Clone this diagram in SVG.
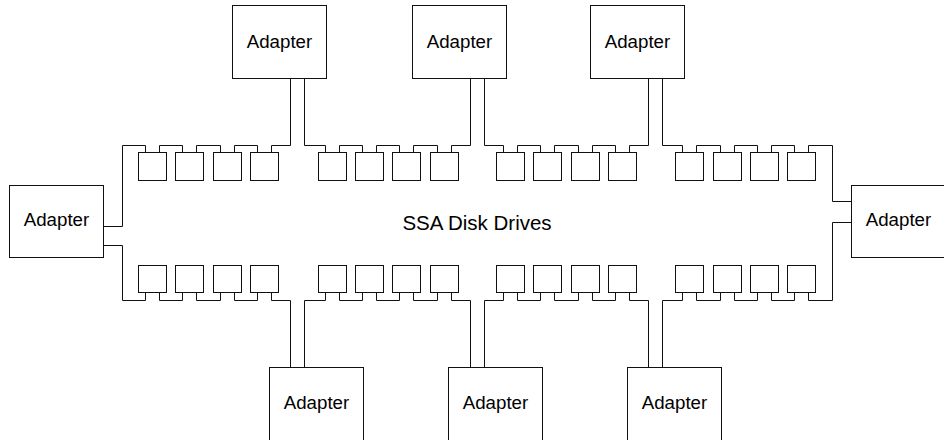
<svg xmlns="http://www.w3.org/2000/svg" width="944" height="440" viewBox="0 0 944 440">
<style>
.box{fill:#fff;stroke:#111;stroke-width:1}
.drv{fill:#fff;stroke:#111;stroke-width:1}
.wire{fill:none;stroke:#111;stroke-width:1}
.lbl{font-family:"Liberation Sans",Arial,sans-serif;font-size:18.7px;fill:#000;text-anchor:middle}
.big{font-size:20.5px}
</style>
<rect width="944" height="440" fill="#fff"/>
<g id="connectors">
<path class="wire" d="M103.5 226.5 H122.5 V145.5 H145.5 V152.5 M159.5 152.5 V145.5 H182.5 V152.5 M196.5 152.5 V145.5 H220.5 V152.5 M234.5 152.5 V145.5 H257.5 V152.5 M271.5 152.5 V145.5 H290.5 V78.5 M304.5 78.5 V145.5 H325.5 V152.5 M339.5 152.5 V145.5 H362.5 V152.5 M376.5 152.5 V145.5 H399.5 V152.5 M413.5 152.5 V145.5 H437.5 V152.5 M451.5 152.5 V145.5 H470.5 V78.5 M484.5 78.5 V145.5 H503.5 V152.5 M517.5 152.5 V145.5 H540.5 V152.5 M554.5 152.5 V145.5 H578.5 V152.5 M592.5 152.5 V145.5 H615.5 V152.5 M629.5 152.5 V145.5 H648.5 V78.5 M662.5 78.5 V145.5 H682.5 V152.5 M696.5 152.5 V145.5 H720.5 V152.5 M734.5 152.5 V145.5 H757.5 V152.5 M771.5 152.5 V145.5 H794.5 V152.5 M808.5 152.5 V145.5 H832.5 V201.5 H851.5"/>
<path class="wire" d="M103.5 245.5 H122.5 V300.5 H145.5 V292.5 M159.5 292.5 V300.5 H182.5 V292.5 M196.5 292.5 V300.5 H220.5 V292.5 M234.5 292.5 V300.5 H257.5 V292.5 M271.5 292.5 V300.5 H290.5 V367.5 M304.5 367.5 V300.5 H325.5 V292.5 M339.5 292.5 V300.5 H362.5 V292.5 M376.5 292.5 V300.5 H399.5 V292.5 M413.5 292.5 V300.5 H437.5 V292.5 M451.5 292.5 V300.5 H470.5 V367.5 M484.5 367.5 V300.5 H503.5 V292.5 M517.5 292.5 V300.5 H540.5 V292.5 M554.5 292.5 V300.5 H578.5 V292.5 M592.5 292.5 V300.5 H615.5 V292.5 M629.5 292.5 V300.5 H648.5 V367.5 M662.5 367.5 V300.5 H682.5 V292.5 M696.5 292.5 V300.5 H720.5 V292.5 M734.5 292.5 V300.5 H757.5 V292.5 M771.5 292.5 V300.5 H794.5 V292.5 M808.5 292.5 V300.5 H832.5 V222.5 H851.5"/>
</g>
<g id="drives-top">
<rect class="drv" x="138.5" y="152.5" width="28" height="28"/>
<rect class="drv" x="175.5" y="152.5" width="28" height="28"/>
<rect class="drv" x="213.5" y="152.5" width="28" height="28"/>
<rect class="drv" x="250.5" y="152.5" width="28" height="28"/>
<rect class="drv" x="318.5" y="152.5" width="28" height="28"/>
<rect class="drv" x="355.5" y="152.5" width="28" height="28"/>
<rect class="drv" x="392.5" y="152.5" width="28" height="28"/>
<rect class="drv" x="430.5" y="152.5" width="28" height="28"/>
<rect class="drv" x="496.5" y="152.5" width="28" height="28"/>
<rect class="drv" x="533.5" y="152.5" width="28" height="28"/>
<rect class="drv" x="571.5" y="152.5" width="28" height="28"/>
<rect class="drv" x="608.5" y="152.5" width="28" height="28"/>
<rect class="drv" x="675.5" y="152.5" width="28" height="28"/>
<rect class="drv" x="713.5" y="152.5" width="28" height="28"/>
<rect class="drv" x="750.5" y="152.5" width="28" height="28"/>
<rect class="drv" x="787.5" y="152.5" width="28" height="28"/>
</g>
<g id="drives-bottom">
<rect class="drv" x="138.5" y="265.5" width="28" height="27"/>
<rect class="drv" x="175.5" y="265.5" width="28" height="27"/>
<rect class="drv" x="213.5" y="265.5" width="28" height="27"/>
<rect class="drv" x="250.5" y="265.5" width="28" height="27"/>
<rect class="drv" x="318.5" y="265.5" width="28" height="27"/>
<rect class="drv" x="355.5" y="265.5" width="28" height="27"/>
<rect class="drv" x="392.5" y="265.5" width="28" height="27"/>
<rect class="drv" x="430.5" y="265.5" width="28" height="27"/>
<rect class="drv" x="496.5" y="265.5" width="28" height="27"/>
<rect class="drv" x="533.5" y="265.5" width="28" height="27"/>
<rect class="drv" x="571.5" y="265.5" width="28" height="27"/>
<rect class="drv" x="608.5" y="265.5" width="28" height="27"/>
<rect class="drv" x="675.5" y="265.5" width="28" height="27"/>
<rect class="drv" x="713.5" y="265.5" width="28" height="27"/>
<rect class="drv" x="750.5" y="265.5" width="28" height="27"/>
<rect class="drv" x="787.5" y="265.5" width="28" height="27"/>
</g>
<g id="adapter-top-1"><rect class="box" x="232.5" y="5.5" width="94" height="73"/><text class="lbl" x="279.5" y="47.5">Adapter</text></g>
<g id="adapter-top-2"><rect class="box" x="412.5" y="5.5" width="94" height="73"/><text class="lbl" x="459.5" y="47.5">Adapter</text></g>
<g id="adapter-top-3"><rect class="box" x="590.5" y="5.5" width="94" height="73"/><text class="lbl" x="637.5" y="47.5">Adapter</text></g>
<g id="adapter-left"><rect class="box" x="9.5" y="185.5" width="94" height="72"/><text class="lbl" x="56.5" y="226">Adapter</text></g>
<g id="adapter-right"><rect class="box" x="851.5" y="185.5" width="94" height="72"/><text class="lbl" x="898.5" y="226">Adapter</text></g>
<g id="adapter-bottom-1"><rect class="box" x="269.5" y="367.5" width="94" height="73"/><text class="lbl" x="316.5" y="409">Adapter</text></g>
<g id="adapter-bottom-2"><rect class="box" x="448.5" y="367.5" width="94" height="73"/><text class="lbl" x="495.5" y="409">Adapter</text></g>
<g id="adapter-bottom-3"><rect class="box" x="627.5" y="367.5" width="94" height="73"/><text class="lbl" x="674.5" y="409">Adapter</text></g>
<g id="label-ssa"><text class="lbl big" x="477" y="229.5">SSA Disk Drives</text></g>
</svg>
